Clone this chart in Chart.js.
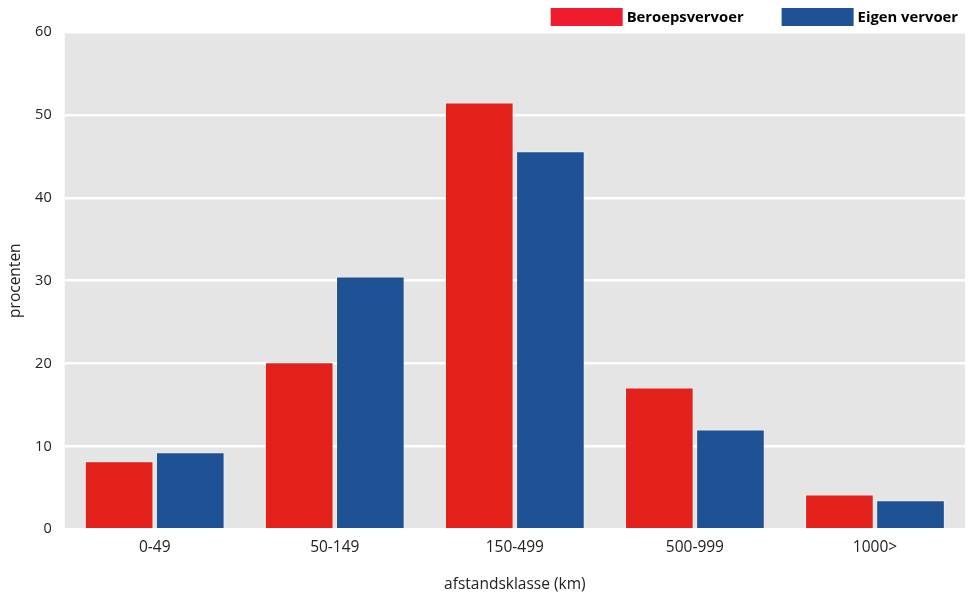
<!DOCTYPE html>
<html><head><meta charset="utf-8">
<script src="https://cdn.jsdelivr.net/npm/chart.js@4.4.1/dist/chart.umd.min.js"></script>
<style>html,body{margin:0;padding:0;background:#fff}#wrap{width:968px;height:596px}</style>
</head><body><div id="wrap"><canvas id="c"></canvas></div>
<script>
const categories = ["0-49", "50-149", "150-499", "500-999", "1000>"];
const beroepsvervoer = [8.2, 20.15, 51.5, 17.1, 4.2];
const eigenVervoer = [9.3, 30.5, 45.6, 12.05, 3.5];
const seriesNames = ["Beroepsvervoer", "Eigen vervoer"];
const yTicks = [0, 10, 20, 30, 40, 50, 60];

const FONT = "'Open Sans', 'Noto Sans', sans-serif";
const FS = 15.5;
const legendColors = ['#ee1c2e', '#1f5294'];

const bgPlugin = {
  id: 'bg',
  beforeDraw(chart) {
    const {ctx, chartArea: a} = chart;
    ctx.save();
    ctx.fillStyle = '#e5e5e5';
    ctx.fillRect(a.left, a.top, a.right - a.left, a.bottom - a.top);
    ctx.restore();
  }
};

const legendPlugin = {
  id: 'customLegend',
  afterDraw(chart) {
    const ctx = chart.ctx;
    const items = chart.data.datasets.map((d, i) => ({text: d.label, color: legendColors[i]}));
    ctx.save();
    ctx.font = 'bold 14.8px ' + FONT;
    ctx.textBaseline = 'middle';
    ctx.textAlign = 'left';
    const boxW = 72, boxH = 18, gapText = 4, gapItem = 38, top = 8;
    let widths = items.map(it => boxW + gapText + ctx.measureText(it.text).width);
    let total = widths.reduce((a, b) => a + b, 0) + gapItem * (items.length - 1);
    let x = chart.width - 10 - total;
    items.forEach((it, i) => {
      ctx.fillStyle = it.color;
      ctx.fillRect(x, top, boxW, boxH);
      ctx.fillStyle = '#000';
      ctx.fillText(it.text, x + boxW + gapText, top + boxH / 2 + 1);
      x += widths[i] + gapItem;
    });
    ctx.restore();
  }
};

new Chart(document.getElementById('c'), {
  type: 'bar',
  data: {
    labels: categories,
    datasets: [
      {label: seriesNames[0], data: beroepsvervoer, backgroundColor: '#e1211a', borderColor: 'rgba(255,255,255,0.35)', borderWidth: 1, barPercentage: 0.965, categoryPercentage: 0.79},
      {label: seriesNames[1], data: eigenVervoer, backgroundColor: '#1f5294', borderColor: 'rgba(255,255,255,0.35)', borderWidth: 1, barPercentage: 0.965, categoryPercentage: 0.79}
    ]
  },
  options: {
    responsive: true,
    maintainAspectRatio: false,
    animation: false,
    layout: {padding: {top: 32, right: 3, left: 6.5, bottom: 2}},
    plugins: {
      tooltip: {enabled: false},
      legend: {display: false}
    },
    scales: {
      x: {
        grid: {display: false, drawTicks: false},
        border: {display: false},
        ticks: {color: '#222', font: {family: FONT, size: FS}, padding: 9},
        title: {display: true, text: 'afstandsklasse (km)', color: '#222', font: {family: FONT, size: FS}, padding: {top: 9.5, bottom: 0}}
      },
      y: {
        min: 0, max: 60,
        afterBuildTicks(axis) { axis.ticks = yTicks.map(v => ({value: v})); },
        grid: {color: '#ffffff', lineWidth: 2.5, drawTicks: false},
        border: {display: false},
        ticks: {color: '#222', font: {family: FONT, size: 14.5}, padding: 13},
        title: {display: true, text: 'procenten', color: '#222', font: {family: FONT, size: FS}, padding: {top: 0, bottom: -3}}
      }
    }
  },
  plugins: [bgPlugin, legendPlugin]
});
</script></body></html>
